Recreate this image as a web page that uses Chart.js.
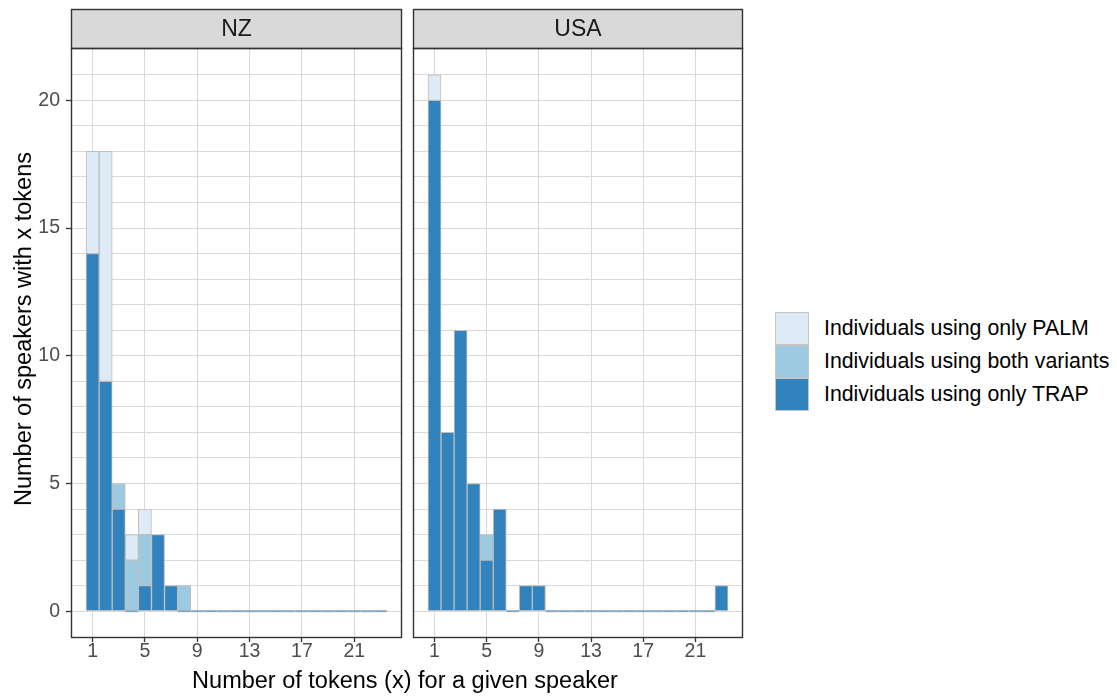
<!DOCTYPE html>
<html>
<head>
<meta charset="utf-8">
<script src="https://cdn.jsdelivr.net/npm/chart.js@4"></script>
<style>
  html, body { margin: 0; padding: 0; background: #ffffff; }
  body { width: 1117px; height: 697px; position: relative; overflow: hidden; font-family: "Liberation Sans", Arial, sans-serif; }
  canvas { position: absolute; top: 0; }
  #nz { left: 0; }
  #usa { left: 405px; }
  .title { position: absolute; font-size: 23.5px; line-height: 24px; color: #000; white-space: nowrap; }
  #xtitle { left: 405px; top: 680px; transform: translate(-50%, -50%); }
  #ytitle { left: 23px; top: 329px; transform: translate(-50%, -50%) rotate(-90deg); }
  #legend { position: absolute; left: 775px; top: 312px; }
  .row { position: relative; height: 33px; }
  .key { position: absolute; left: 0; top: 0; width: 34px; height: 33px; box-sizing: border-box; border: 1px solid #C4C4C4; }
  .lab { position: absolute; left: 49px; top: 0; line-height: 33px; font-size: 21.3px; color: #000; white-space: nowrap; }
</style>
</head>
<body>
<canvas id="nz" width="410" height="697"></canvas>
<canvas id="usa" width="345" height="697"></canvas>
<div class="title" id="xtitle">Number of tokens (x) for a given speaker</div>
<div class="title" id="ytitle">Number of speakers with x tokens</div>
<div id="legend"></div>
<script>
// ---- data ----
const tokens = [1,2,3,4,5,6,7,8,9,10,11,12,13,14,15,16,17,18,19,20,21,22,23];
const seriesNames = ["Individuals using only PALM", "Individuals using both variants", "Individuals using only TRAP"];
const seriesColors = ["#DEEBF7", "#9ECAE1", "#3182BD"];

const nzTrap = [14, 9, 4, 0, 1, 3, 1, 0, 0,0,0,0,0,0,0,0,0,0,0,0,0,0,0];
const nzBoth = [ 0, 0, 1, 2, 2, 0, 0, 1, 0,0,0,0,0,0,0,0,0,0,0,0,0,0,0];
const nzPalm = [ 4, 9, 0, 1, 1, 0, 0, 0, 0,0,0,0,0,0,0,0,0,0,0,0,0,0,0];

const usaTrap = [20, 7, 11, 5, 2, 4, 0, 1, 1, 0,0,0,0,0,0,0,0,0,0,0,0,0, 1];
const usaBoth = [ 0, 0, 0, 0, 1, 0, 0, 0, 0, 0,0,0,0,0,0,0,0,0,0,0,0,0, 0];
const usaPalm = [ 1, 0, 0, 0, 0, 0, 0, 0, 0, 0,0,0,0,0,0,0,0,0,0,0,0,0, 0];

const xTickLabels = [1, 5, 9, 13, 17, 21];
const yTickLabels = [0, 5, 10, 15, 20];
const yMaxGrid = 21;

// ---- helpers ----
const FONT = '"Liberation Sans", Arial, sans-serif';
const BAR_BORDER = '#BEBEBE';
const GRID = '#D9D9D9';

const facetPlugin = {
  id: 'facet',
  afterDraw(chart, args, opts) {
    const { ctx, chartArea: a } = chart;
    const l = Math.round(a.left) + 0.5, r = Math.round(a.right) - 0.5;
    const t = Math.round(a.top) + 0.5, b = Math.round(a.bottom) - 0.5;
    const h = opts.height;
    ctx.save();
    ctx.fillStyle = '#D9D9D9';
    ctx.fillRect(l, t - h, r - l, h);
    ctx.strokeStyle = '#333333';
    ctx.lineWidth = 1.4;
    ctx.strokeRect(l, t - h, r - l, h);
    ctx.strokeRect(l, t, r - l, b - t);
    ctx.fillStyle = '#1A1A1A';
    ctx.font = '23px ' + FONT;
    ctx.textAlign = 'center';
    ctx.textBaseline = 'middle';
    ctx.fillText(opts.text, (l + r) / 2, t - h / 2 + 1);
    ctx.restore();
  }
};

function makeDatasets(trap, both, palm) {
  const base = { borderColor: BAR_BORDER, borderWidth: 1, borderSkipped: false,
                 barPercentage: 1, categoryPercentage: 1 };
  return [
    Object.assign({}, base, { label: seriesNames[2], data: trap, backgroundColor: seriesColors[2], minBarLength: 2 }),
    Object.assign({}, base, { label: seriesNames[1], data: both, backgroundColor: seriesColors[1] }),
    Object.assign({}, base, { label: seriesNames[0], data: palm, backgroundColor: seriesColors[0] })
  ];
}

function makeChart(id, title, datasets, showY, yWidth, padRight) {
  const yGrid = [];
  for (let v = 0; v <= yMaxGrid; v++) yGrid.push(v);
  return new Chart(document.getElementById(id), {
    type: 'bar',
    data: { labels: tokens, datasets },
    plugins: [facetPlugin],
    options: {
      responsive: false,
      animation: false,
      devicePixelRatio: 1,
      events: [],
      layout: { padding: { left: 0, right: padRight, top: 48, bottom: 0 } },
      plugins: {
        legend: { display: false },
        tooltip: { enabled: false },
        facet: { text: title, height: 39 }
      },
      scales: {
        x: {
          type: 'linear',
          stacked: true,
          offset: false,
          min: -0.65,
          max: 24.65,
          afterBuildTicks: s => { s.ticks = xTickLabels.map(v => ({ value: v })); },
          afterFit: s => { s.height = 59; },
          ticks: { autoSkip: false, maxRotation: 0, color: '#4D4D4D', padding: -2,
                   font: { family: FONT, size: 19.5 } },
          grid: { color: GRID, lineWidth: 1, offset: false, tickLength: 4, tickColor: '#333333', tickWidth: 1.3 },
          border: { display: false }
        },
        y: {
          type: 'linear',
          stacked: true,
          min: -1.05,
          max: 22.05,
          afterBuildTicks: s => { s.ticks = yGrid.map(v => ({ value: v })); },
          afterFit: s => { s.width = yWidth; },
          ticks: {
            display: showY, autoSkip: false, color: '#4D4D4D', padding: 6,
            font: { family: FONT, size: 19.5 },
            callback: v => (yTickLabels.includes(v) ? String(v) : '')
          },
          grid: {
            color: GRID, lineWidth: 1, drawTicks: showY, tickLength: 5, tickWidth: 1.3,
            tickColor: c => (c.tick && yTickLabels.includes(c.tick.value) ? '#333333' : 'rgba(0,0,0,0)')
          },
          border: { display: false }
        }
      }
    }
  });
}

makeChart('nz', 'NZ', makeDatasets(nzTrap, nzBoth, nzPalm), true, 71, 8);
makeChart('usa', 'USA', makeDatasets(usaTrap, usaBoth, usaPalm), false, 8, 7);

// legend
const leg = document.getElementById('legend');
seriesNames.forEach((name, i) => {
  const row = document.createElement('div');
  row.className = 'row';
  const key = document.createElement('div');
  key.className = 'key';
  key.style.background = seriesColors[i];
  const lab = document.createElement('div');
  lab.className = 'lab';
  lab.textContent = name;
  row.appendChild(key); row.appendChild(lab);
  leg.appendChild(row);
});
</script>
</body>
</html>
